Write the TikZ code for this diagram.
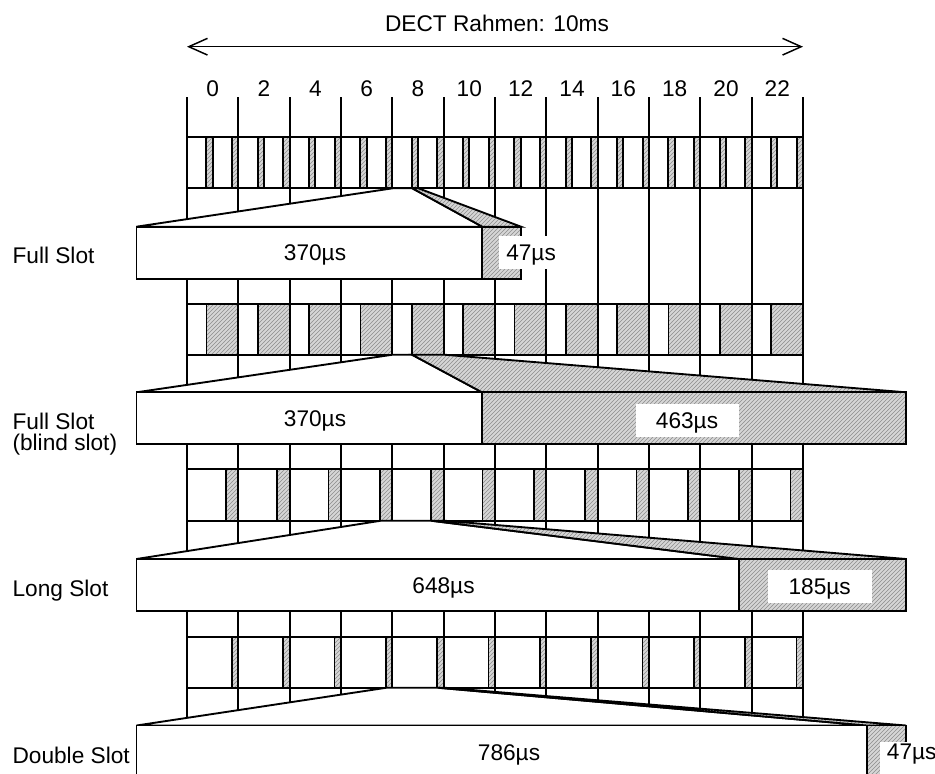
\documentclass[tikz,border=0pt]{standalone}
\usepackage{fontspec}
\setmainfont{Liberation Sans}
\usetikzlibrary{arrows.meta,patterns}
\begin{document}
\begin{tikzpicture}[x=0.75pt,y=-0.75pt, line join=miter,
  ln/.style={line width=1.4pt},
  gr/.style={preaction={fill=black!16}, pattern=north east lines, pattern color=black!45, draw=black, line width=1.4pt},
  wh/.style={fill=white, draw=black, line width=1.4pt},
  lab/.style={font=\fontsize{17}{20}\selectfont, inner sep=0pt, anchor=base},
  side/.style={font=\fontsize{17}{20}\selectfont, inner sep=0pt, anchor=base west},
  tagbox/.style={fill=white}]
\useasboundingbox (0,0) rectangle (935,774);
\clip (0,0) rectangle (935,774);

% title and frame arrow
\node[lab] (title) at (497,31.7) {DECT Rahmen: 10ms};
\coordinate (al) at (187,46.7);
\coordinate (ar) at (803,46.7);
\draw[line width=1.1pt, {Straight Barb[length=14pt,width=12.5pt]}-{Straight Barb[length=14pt,width=12.5pt]}] (al) -- (ar);

% slot numbers
\foreach \i in {0,...,11} {
  \pgfmathtruncatemacro\n{2*\i}
  \node[lab] (n\i) at (212.67+51.333*\i, 96.7) {\n};
}

% grid lines
\foreach \i in {0,...,12} {
  \coordinate (gt\i) at (187+51.333*\i, 97.3);
  \coordinate (gb\i) at (187+51.333*\i, 790);
  \draw[ln] (gt\i) -- (gb\i);
}

% row 1: full slots
\draw[wh] (187,136.7) rectangle (803,188.3);
\foreach \k in {0,...,23}
  \draw[gr] ({187+25.667*(\k+1)-6.3},136.7) rectangle ({187+25.667*(\k+1)},188.3);

% row 2: blind slots
\draw[wh] (187,304) rectangle (803,354.7);
\foreach \i in {0,...,11}
  \draw[gr] ({187+51.333*\i+19.5},304) rectangle ({187+51.333*(\i+1)},354.7);

% row 3: long slots
\draw[wh] (187,469) rectangle (803,520.7);
\foreach \i in {0,...,11}
  \draw[gr] ({187+51.333*(\i+1)-12.5},469) rectangle ({187+51.333*(\i+1)},520.7);

% row 4: double slots
\draw[wh] (187,636.7) rectangle (803,687.7);
\foreach \i in {0,...,11}
  \draw[gr] ({187+51.333*(\i+1)-6.5},636.7) rectangle ({187+51.333*(\i+1)},687.7);

% trapezoid 1 and full slot box
\draw[wh] (392.67,188.3) -- (412.3,188.3) -- (482.3,226.7) -- (136.5,226.7) -- cycle;
\draw[gr] (412.3,188.3) -- (418.33,188.3) -- (521,226.7) -- (482.3,226.7) -- cycle;
\draw[wh] (136.5,226.7) rectangle (482.3,278.7);
\draw[gr] (482.3,226.7) rectangle (521,278.7);

% trapezoid 2 and blind slot box
\draw[wh] (392.67,354.7) -- (412,354.7) -- (482,392.3) -- (136.5,392.3) -- cycle;
\draw[gr] (412,354.7) -- (444,354.7) -- (906,392.3) -- (482,392.3) -- cycle;
\draw[wh] (136.5,392.3) rectangle (482,444);
\draw[gr] (482,392.3) rectangle (906,444);

% trapezoid 3 and long slot box
\draw[wh] (381,520.7) -- (431,520.7) -- (738.7,559) -- (136.5,559) -- cycle;
\draw[gr] (431,520.7) -- (444,520.7) -- (906,559) -- (738.7,559) -- cycle;
\draw[wh] (136.5,559) rectangle (738.7,611);
\draw[gr] (738.7,559) rectangle (906,611);

% trapezoid 4 and double slot box
\draw[wh] (386.7,687.7) -- (437.7,687.7) -- (866.7,725.5) -- (136.5,725.5) -- cycle;
\draw[gr] (437.7,687.7) -- (444,687.7) -- (906,725.5) -- (866.7,725.5) -- cycle;
\draw[wh] (136.5,725.5) rectangle (866.7,790);
\draw[gr] (866.7,725.5) rectangle (906,790);

% white label backgrounds
\fill[tagbox] (499.3,236) rectangle (556.7,269.3);
\fill[tagbox] (636,404) rectangle (738.7,436.7);
\fill[tagbox] (767.7,570) rectangle (871.7,602.7);
\fill[tagbox] (880,741.7) rectangle (940,790);

% box labels
\node[lab] (a370) at (315,260.7) {370µs};
\node[side] (a47) at (506,260.7) {47µs};
\node[lab] (b370) at (315,426.2) {370µs};
\node[lab] (b463) at (687,428) {463µs};
\node[lab] (c648) at (443.5,593) {648µs};
\node[lab] (c185) at (819.7,594) {185µs};
\node[lab] (d786) at (509,760) {786µs};
\node[side] (d47) at (886.7,759) {47µs};

% row names
\node[side] (s1) at (12.3,263.3) {Full Slot};
\node[side] (s2) at (12.3,429) {Full Slot};
\node[side] (s2b) at (12.3,450) {(blind slot)};
\node[side] (s3) at (12.3,596.7) {Long Slot};
\node[side] (s4) at (12.3,763.3) {Double Slot};
\end{tikzpicture}
\end{document}
